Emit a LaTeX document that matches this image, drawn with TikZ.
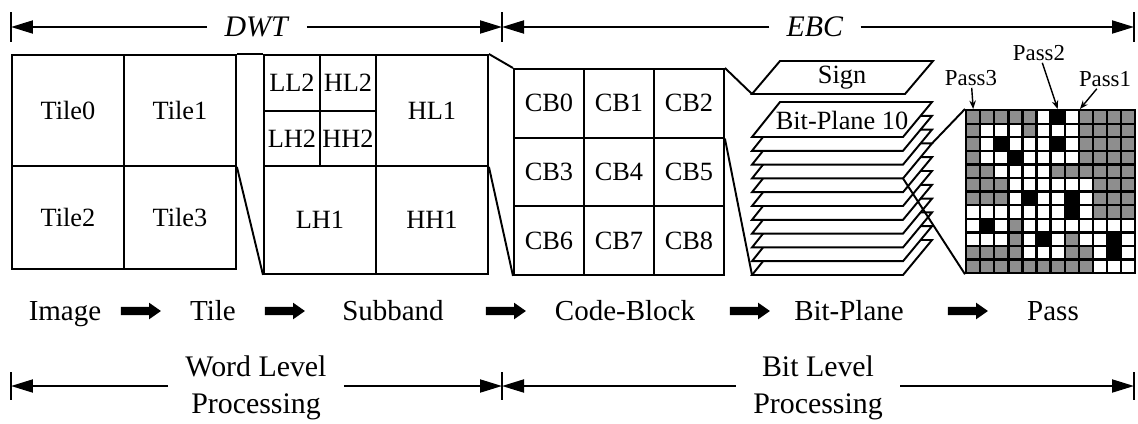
\documentclass[tikz,border=0pt]{standalone}
\usepackage{fontspec}
\setmainfont{Liberation Serif}
\usepackage{tikz}
\usetikzlibrary{arrows.meta,shapes.arrows}
\definecolor{cG}{HTML}{8E8E8E}
\colorlet{cW}{white}
\colorlet{cB}{black}
\tikzset{
  cellbox/.style={draw=black,line width=1.1pt,inner sep=0pt,anchor=north west,font=\fontsize{15}{18}\selectfont},
  bigcell/.style={cellbox,minimum width=2.24cm},
  smallcell/.style={cellbox,minimum width=1.12cm},
  gridcell/.style={draw=black,line width=1.3pt,inner sep=0pt,anchor=north west,minimum width=0.2816cm,minimum height=0.2716cm},
  planeshape/.style={draw=black,fill=white,line width=1.1pt,line join=miter},
  planelbl/.style={inner sep=0pt,font=\fontsize{15}{18}\selectfont},
  passlbl/.style={inner sep=1pt,font=\fontsize{13}{15}\selectfont},
  passarr/.style={-{Stealth[length=0.17cm,width=0.13cm]},line width=0.8pt},
  linkline/.style={line width=1.1pt},
  steplbl/.style={anchor=base,inner sep=0pt,font=\fontsize{16.5}{20}\selectfont},
  blockarr/.style={single arrow,fill=black,draw=none,inner xsep=0pt,inner ysep=0.075cm,minimum height=0.8cm,single arrow head extend=0.085cm,single arrow tip angle=70},
  dimlbl/.style={inner xsep=0.34cm,inner ysep=0pt,align=center,font=\fontsize{17}{21}\selectfont},
  dimarr/.style={-{Triangle[length=0.44cm,width=0.26cm]},line width=1.1pt},
  dimbar/.style={line width=0.9pt},
}
\begin{document}
\begin{tikzpicture}[x=0.02cm,y=-0.02cm]
  \useasboundingbox (0,0) rectangle (1138,423);
  % dimension lines
  \coordinate (tbL) at (11,27);
  \coordinate (tbM) at (502,27);
  \coordinate (tbR) at (1134,27);
  \coordinate (bbL) at (11,386);
  \coordinate (bbM) at (502,386);
  \coordinate (bbR) at (1134,386);
  \foreach \b in {tbL,tbM,tbR}
    \draw[dimbar] (\b) ++(0,-15) -- ++(0,30);
  \foreach \b in {bbL,bbM,bbR}
    \draw[dimbar] (\b) ++(0,-14) -- ++(0,28);
  \node[dimlbl] (ndwt) at (257,27) {\textit{DWT}};
  \node[dimlbl] (nebc) at (815,27) {\textit{EBC}};
  \node[dimlbl] (nword) at (256,388) {Word Level\\Processing};
  \node[dimlbl] (nbit) at (818,388) {Bit Level\\Processing};
  \draw[dimarr] (ndwt) -- (tbL);
  \draw[dimarr] (ndwt) -- (tbM);
  \draw[dimarr] (nebc) -- (tbM);
  \draw[dimarr] (nebc) -- (tbR);
  \draw[dimarr] (nword.west|-bbL) -- (bbL);
  \draw[dimarr] (nword.east|-bbL) -- (bbM);
  \draw[dimarr] (nbit.west|-bbL) -- (bbM);
  \draw[dimarr] (nbit.east|-bbL) -- (bbR);

  % tiles
  \node[bigcell,minimum height=2.22cm] (ntile0) at (11,54) {Tile0};
  \node[bigcell,minimum height=2.22cm] (ntile1) at (123,54) {Tile1};
  \node[bigcell,minimum height=2.06cm] (ntile2) at (11,165) {Tile2};
  \node[bigcell,minimum height=2.06cm] (ntile3) at (123,165) {Tile3};

  % subbands
  \node[smallcell,minimum height=1.12cm] (nll2) at (263,54) {LL2};
  \node[smallcell,minimum height=1.12cm] (nhl2) at (319,54) {HL2};
  \node[smallcell,minimum height=1.10cm] (nlh2) at (263,110) {LH2};
  \node[smallcell,minimum height=1.10cm] (nhh2) at (319,110) {HH2};
  \node[bigcell,minimum height=2.22cm] (nhl1) at (375,54) {HL1};
  \node[bigcell,minimum height=2.16cm] (nlh1) at (263,165) {LH1};
  \node[bigcell,minimum height=2.16cm] (nhh1) at (375,165) {HH1};
  \draw[linkline] (ntile1.north east) -- (nll2.north west);
  \draw[linkline] (ntile1.south east) -- (nlh1.south west);

  % code-blocks
  \foreach \n in {0,...,8}{
    \pgfmathtruncatemacro\cc{mod(\n,3)}
    \pgfmathtruncatemacro\rr{\n/3}
    \node[cellbox,minimum width=1.4cm,minimum height=1.373cm] (ncb\n) at ({513+70*\cc},{68+68.67*\rr}) {CB\n};
  }
  \draw[linkline] (nhl1.north east) -- (ncb0.north west);
  \draw[linkline] (nhl1.south east) -- (ncb6.south west);

  % bit-planes
  \filldraw[planeshape] (752,94) -- (905,94) -- (933,61) -- (780,61) -- cycle;
  \node[planelbl] (nsign) at (842,78) {Sign};
  \foreach \k in {10,9,...,0}{
    \pgfmathsetmacro\dy{13.8*\k}
    \filldraw[planeshape] (752,{137+\dy}) -- (903,{137+\dy}) -- (932,{102+\dy}) -- (780,{102+\dy}) -- cycle;
  }
  \node[planelbl] (nbp10) at (842,120) {Bit-Plane 10};
  \coordinate (signbl) at (752,94);
  \coordinate (bp0bl) at (752,275);
  \coordinate (bp7tr) at (932,143.4);
  \coordinate (bp7br) at (903,178.4);
  \draw[linkline] (ncb2.north east) -- (signbl);
  \draw[linkline] (ncb2.south east) -- (bp0bl);

  % passes
  \foreach \row [count=\j] in {
    {G,G,G,G,G,W,B,W,G,G,G,G},
    {G,W,W,W,G,W,W,W,G,G,G,G},
    {G,W,B,W,W,W,B,W,G,G,G,G},
    {G,W,W,B,W,W,W,W,G,G,G,G},
    {G,G,W,W,W,W,G,G,G,G,G,G},
    {G,G,G,W,W,W,W,W,W,G,G,G},
    {G,G,G,W,B,W,W,B,W,G,G,G},
    {W,W,W,W,W,W,W,B,W,G,G,G},
    {W,B,W,G,W,W,W,W,W,W,W,W},
    {W,W,W,G,W,B,W,G,W,W,B,W},
    {G,G,G,G,W,W,W,G,G,W,B,W},
    {G,G,G,G,G,G,G,G,G,W,W,W}}{
    \foreach \c [count=\i] in \row
      \node[gridcell,fill=c\c] (ng\j-\i) at ({965+14.08*(\i-1)},{109+13.58*(\j-1)}) {};
  }
  \draw[linkline] (bp7tr) -- (ng1-1.north west);
  \draw[linkline] (bp7br) -- (ng12-1.south west);
  \node[passlbl] (npass3) at (971,78) {Pass3};
  \node[passlbl] (npass2) at (1039,53) {Pass2};
  \node[passlbl] (npass1) at (1105,79) {Pass1};
  \draw[passarr] (npass3) -- (ng1-1.north);
  \draw[passarr] (npass2) -- (ng1-7.north);
  \draw[passarr] (npass1) -- (ng1-8.north east);

  % processing chain
  \node[steplbl] (nimage) at (65,320) {Image};
  \node[steplbl] (ntile) at (213,320) {Tile};
  \node[steplbl] (nsubband) at (393,320) {Subband};
  \node[steplbl] (ncodeblock) at (625,320) {Code-Block};
  \node[steplbl] (nbitplane) at (849,320) {Bit-Plane};
  \node[steplbl] (npass) at (1053,320) {Pass};
  \node[blockarr] (nar1) at (138,311) {};
  \node[blockarr] (nar2) at (282,311) {};
  \node[blockarr] (nar3) at (503,311) {};
  \node[blockarr] (nar4) at (747,311) {};
  \node[blockarr] (nar5) at (965,311) {};
\end{tikzpicture}
\end{document}
